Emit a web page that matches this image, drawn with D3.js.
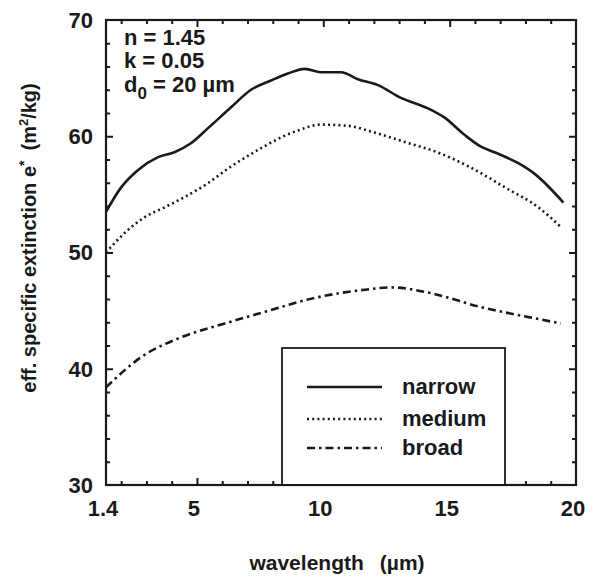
<!DOCTYPE html>
<html>
<head>
<meta charset="utf-8">
<script src="https://cdn.jsdelivr.net/npm/d3@7"></script>
<style>
  html, body { margin: 0; padding: 0; background: #fff; }
  svg text { font-family: "Liberation Sans", Arial, Helvetica, sans-serif; font-weight: bold; fill: #1a1a1a; }
</style>
</head>
<body>
<svg id="chart" width="594" height="581"></svg>
<script>
// Effective specific extinction vs. wavelength for three size distributions
const xTickValues = [1.4, 5, 10, 15, 20];
const xTickLabels = ["1.4", "5", "10", "15", "20"];
const yTickValues = [30, 40, 50, 60, 70];

const narrowWl = [1.4, 2.0, 2.67, 3.46, 4.13, 4.76, 5.44, 6.35, 7.14, 7.93, 8.6, 9.27, 9.9, 10.7, 11.37, 12.16, 13.07, 14.14, 14.8, 15.6, 16.24, 16.8, 17.7, 18.4, 19.5];
const narrowE  = [53.5, 55.6, 57.1, 58.2, 58.65, 59.4, 60.7, 62.5, 64.0, 64.8, 65.4, 65.8, 65.5, 65.5, 64.9, 64.4, 63.3, 62.4, 61.6, 60.1, 59.1, 58.6, 57.7, 56.7, 54.3];

const mediumWl = [1.4, 2.15, 2.94, 3.73, 4.53, 5.32, 6.35, 7.4, 8.33, 9.0, 9.9, 10.98, 11.9, 13.23, 14.54, 15.84, 17.19, 18.5, 19.4];
const mediumE  = [50.0, 51.7, 53.05, 53.9, 54.8, 55.8, 57.4, 58.8, 59.9, 60.5, 61.0, 60.9, 60.4, 59.5, 58.6, 57.3, 55.6, 53.9, 52.2];

const broadWl = [1.4, 2.79, 4.37, 6.11, 7.69, 9.67, 11.65, 12.68, 14.26, 16.24, 18.22, 19.4];
const broadE  = [38.4, 41.0, 42.7, 43.9, 44.9, 46.1, 46.8, 47.0, 46.5, 45.3, 44.4, 43.9];

const seriesNames = ["narrow", "medium", "broad"];
const seriesDash = ["none", "2,3.2", "8,4,2.5,4"];

const svg = d3.select("#chart");
const plotLeft = 106, plotRight = 576, plotTop = 20, plotBottom = 485;

const x = d3.scaleLinear().domain([1.4, 20]).range([plotLeft, plotRight]);
const y = d3.scaleLinear().domain([30, 70]).range([plotBottom, plotTop]);

const ink = "#1a1a1a";

// inward ticks on all four sides
const xMinor = d3.range(2, 20, 1).filter(v => v % 5 !== 0);
const xMajor = [5, 10, 15];
const yMinor = d3.range(32, 70, 2).filter(v => v % 10 !== 0);
const yMajor = [40, 50, 60];

function tickAxis(axisFn, scale, values, size, transform) {
  const g = svg.append("g").attr("transform", transform)
    .call(axisFn(scale).tickValues(values).tickSize(size).tickFormat(""));
  g.select(".domain").remove();
  g.selectAll(".tick line").attr("stroke", ink).attr("stroke-width", 2);
  return g;
}
tickAxis(d3.axisTop, x, xMinor, 4, `translate(0,${plotBottom})`);
tickAxis(d3.axisTop, x, xMajor, 7, `translate(0,${plotBottom})`);
tickAxis(d3.axisBottom, x, xMinor, 4, `translate(0,${plotTop})`);
tickAxis(d3.axisBottom, x, xMajor, 7, `translate(0,${plotTop})`);
tickAxis(d3.axisRight, y, yMinor, 4, `translate(${plotLeft},0)`);
tickAxis(d3.axisRight, y, yMajor, 7, `translate(${plotLeft},0)`);
tickAxis(d3.axisLeft, y, yMinor, 4, `translate(${plotRight},0)`);
tickAxis(d3.axisLeft, y, yMajor, 7, `translate(${plotRight},0)`);

// frame
svg.append("rect")
  .attr("x", plotLeft).attr("y", plotTop)
  .attr("width", plotRight - plotLeft).attr("height", plotBottom - plotTop)
  .attr("fill", "none").attr("stroke", ink).attr("stroke-width", 2.2);

// tick labels
svg.append("g").selectAll("text").data(yTickValues).join("text")
  .attr("x", plotLeft - 13).attr("y", d => y(d)).attr("dy", "0.36em")
  .attr("text-anchor", "end").style("font-size", "22px")
  .text(d => d);

svg.append("g").selectAll("text").data(xTickValues).join("text")
  .attr("x", d => x(d) - 3).attr("y", plotBottom + 31)
  .attr("text-anchor", "middle").style("font-size", "22px")
  .text((d, i) => xTickLabels[i]);

// axis titles
const xt = svg.append("text").attr("x", 337).attr("y", 570)
  .attr("text-anchor", "middle").style("font-size", "21px");
xt.append("tspan").text("wavelength");
xt.append("tspan").attr("dx", 16).text("(\u00b5m)");

const yt = svg.append("text")
  .attr("transform", "translate(36,238) rotate(-90)")
  .attr("text-anchor", "middle").style("font-size", "20px");
yt.append("tspan").text("eff. specific extinction e");
yt.append("tspan").attr("dy", -7).style("font-size", "14px").text("*");
yt.append("tspan").attr("dy", 7).attr("dx", 10).text("(m");
yt.append("tspan").attr("dy", -8).style("font-size", "13px").text("2");
yt.append("tspan").attr("dy", 8).text("/kg)");

// parameter annotations
const annX = 124;
svg.append("text").attr("x", annX).attr("y", 45).style("font-size", "22px").text("n = 1.45");
svg.append("text").attr("x", annX).attr("y", 68).style("font-size", "22px").text("k = 0.05");
const d0 = svg.append("text").attr("x", annX).attr("y", 92).style("font-size", "22px");
d0.append("tspan").text("d");
d0.append("tspan").attr("dy", 7).style("font-size", "17px").text("0");
d0.append("tspan").attr("dy", -7).text(" = 20 \u00b5m");

// curves
const line = d3.line().curve(d3.curveMonotoneX).x(d => x(d[0])).y(d => y(d[1]));
const seriesData = [
  d3.zip(narrowWl, narrowE),
  d3.zip(mediumWl, mediumE),
  d3.zip(broadWl, broadE)
];
const seriesWidth = [2.6, 2.6, 2.6];

svg.append("g").selectAll("path").data(seriesData).join("path")
  .attr("d", line)
  .attr("fill", "none")
  .attr("stroke", ink)
  .attr("stroke-width", (d, i) => seriesWidth[i])
  .attr("stroke-dasharray", (d, i) => seriesDash[i]);

// legend
const lg = svg.append("g");
lg.append("rect")
  .attr("x", 282).attr("y", 348)
  .attr("width", 505 - 282).attr("height", plotBottom - 348)
  .attr("fill", "#fff").attr("stroke", ink).attr("stroke-width", 1.8);
const rowY = [387, 419, 448];
seriesNames.forEach((name, i) => {
  lg.append("line")
    .attr("x1", 307).attr("x2", 382)
    .attr("y1", rowY[i]).attr("y2", rowY[i])
    .attr("stroke", ink).attr("stroke-width", 2.4)
    .attr("stroke-dasharray", seriesDash[i]);
  lg.append("text")
    .attr("x", 402).attr("y", rowY[i]).attr("dy", "0.32em")
    .style("font-size", "22px").text(name);
});
// bottom frame edge redrawn over the legend box
svg.append("line").attr("x1", plotLeft).attr("x2", plotRight).attr("y1", plotBottom).attr("y2", plotBottom)
  .attr("stroke", ink).attr("stroke-width", 2.2);
</script>
</body>
</html>
